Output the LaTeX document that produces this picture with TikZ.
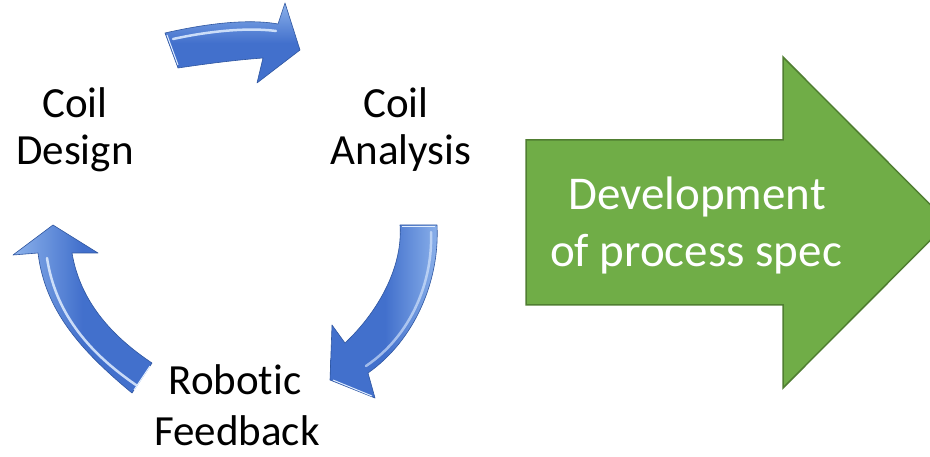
\documentclass[tikz,border=0pt]{standalone}
\usepackage{fontspec}
\setmainfont{Carlito}[Ligatures=NoCommon]
\definecolor{arrowgreen}{RGB}{112,173,71}
\definecolor{arrowgreenedge}{RGB}{80,126,50}
\definecolor{bluemain}{RGB}{66,112,204}
\definecolor{bluedark}{RGB}{47,86,160}
\definecolor{bluelight}{RGB}{140,178,235}
\definecolor{bluehigh}{RGB}{225,238,255}
\tikzset{
  lbl/.style={anchor=base, inner sep=0pt, font=\fontsize{43}{48}\selectfont, text=black},
  glbl/.style={anchor=base, inner sep=0pt, font=\fontsize{47}{56}\selectfont, text=white},
  bluearrow/.style={draw=bluedark, line width=0.6pt, line join=round},
  shine/.style={draw=bluehigh, line width=2.5pt, line cap=round, opacity=0.85},
}
\begin{document}
\begin{tikzpicture}[x=1pt,y=-1pt]
\useasboundingbox (0,0) rectangle (930,457);
\fill[white] (0,0) rectangle (930,457);
\begin{scope}
\clip (0,0) rectangle (930,457);
% green process arrow
\draw[fill=arrowgreen, draw=arrowgreenedge, line width=1.5pt, line join=miter]
  (526,140) -- (783,140) -- (783,57) -- (948,222.5) -- (783,388) -- (783,305) -- (526,305) -- cycle;
\end{scope}
\node[glbl] (dev1) at (697,210) {Development};
\node[glbl] (dev2) at (696,267) {of process spec};

% top arrow (Design -> Analysis)
\draw[bluearrow, top color=bluelight, bottom color=bluemain, middle color=bluemain]
  (165,33) .. controls (200,25) and (245,18) .. (278,24) -- (285,3) -- (300,50) -- (257,83) -- (263,58)
  .. controls (235,60) and (205,64) .. (178,68) -- cycle;
\draw[shine] (173,39) .. controls (205,32) and (245,27) .. (276,31);
\draw[draw=bluehigh, line width=1pt] (167,35) -- (178,65);

% right arrow (Analysis -> Feedback)
\draw[bluearrow, left color=bluemain, right color=bluelight, middle color=bluemain]
  (400,225) -- (437,225) .. controls (440,280) and (415,340) .. (368,373) -- (375,398) -- (330,380)
  -- (332,325) -- (345,343) .. controls (380,310) and (403,265) .. (400,225) -- cycle;
\draw[shine, opacity=0.6] (431,232) .. controls (433,280) and (412,335) .. (366,366);
\draw[draw=bluehigh, line width=1pt] (402,227) -- (435,227);
\draw[draw=bluehigh, line width=1pt] (333,380) -- (372,396);

% left arrow (Feedback -> Design)
\draw[bluearrow, left color=bluelight, right color=bluemain, middle color=bluemain]
  (132,393) .. controls (80,350) and (45,310) .. (38,253) -- (13,255) -- (53,225) -- (98,253) -- (72,253)
  .. controls (80,300) and (110,335) .. (152,363) -- cycle;
\draw[shine] (47,258) .. controls (55,310) and (85,350) .. (136,385);
\draw[draw=bluehigh, line width=1pt] (134,390) -- (150,366);

% labels
\node[lbl] (design1) at (75,118) {Coil};
\node[lbl] (design2) at (75,165) {Design};
\node[lbl] (analysis1) at (396,118) {Coil};
\node[lbl] (analysis2) at (401,165) {Analysis};
\node[lbl] (robot1) at (235,395) {Robotic};
\node[lbl] (robot2) at (237,445) {Feedback};
\end{tikzpicture}
\end{document}
